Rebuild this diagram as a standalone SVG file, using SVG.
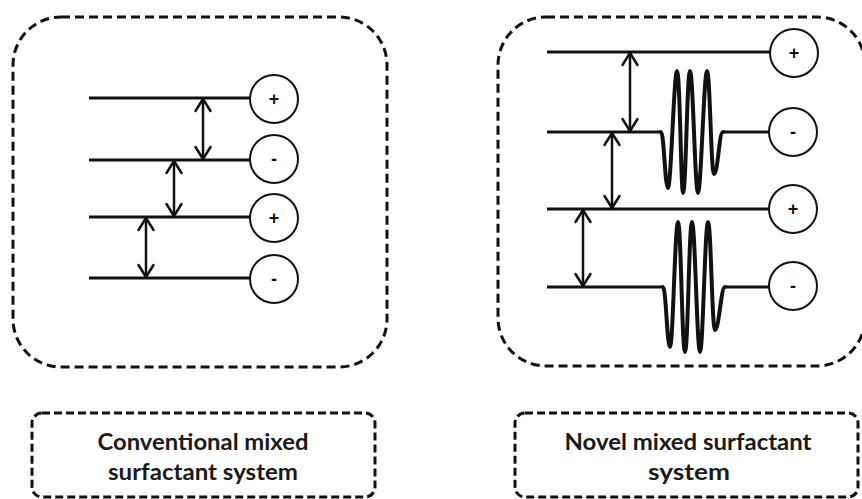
<svg xmlns="http://www.w3.org/2000/svg" width="862" height="499" viewBox="0 0 862 499">
  <style>
    .panel { fill: none; stroke: #111; stroke-width: 3; stroke-dasharray: 9 5; }
    .label-box { fill: none; stroke: #111; stroke-width: 3; stroke-dasharray: 8 4; }
    .tail { fill: none; stroke: #111; stroke-width: 3; }
    .coil { fill: none; stroke: #111; stroke-width: 4; stroke-linejoin: round; stroke-linecap: round; }
    .head { fill: #fff; stroke: #111; stroke-width: 2; }
    .charge { font-family: "Liberation Sans", Arial, sans-serif; font-size: 18px; font-weight: bold; fill: #111; text-anchor: middle; }
    .gap { stroke: #111; stroke-width: 2.5; marker-start: url(#chev); marker-end: url(#chev); }
    .caption { font-family: Lato, "Open Sans", sans-serif; font-size: 23px; font-weight: bold; fill: #1a1a1a; text-anchor: middle; }
  </style>
  <defs>
    <marker id="chev" viewBox="-14 -10 16 20" refX="0" refY="0" markerWidth="16" markerHeight="20" markerUnits="userSpaceOnUse" orient="auto-start-reverse">
      <path d="M-12,-7.5 L0,0 L-12,7.5" fill="none" stroke="#111" stroke-width="2.5" stroke-linecap="round" stroke-linejoin="round"/>
    </marker>
  </defs>
  <rect width="862" height="499" fill="#fff"/>

  <!-- conventional system: four straight-chain surfactants -->
  <g id="conventional-panel">
    <rect class="panel" x="13" y="17" width="374" height="350" rx="48" ry="48"/>
    <g id="conv-s1">
      <line class="tail" x1="89" y1="98" x2="251" y2="98"/>
      <circle class="head" cx="274" cy="99" r="24"/>
      <text class="charge" x="274" y="105">+</text>
    </g>
    <g id="conv-s2">
      <line class="tail" x1="89" y1="160" x2="251" y2="160"/>
      <circle class="head" cx="274" cy="159" r="24"/>
      <text class="charge" x="274" y="165">-</text>
    </g>
    <g id="conv-s3">
      <line class="tail" x1="89" y1="217" x2="251" y2="217"/>
      <circle class="head" cx="274" cy="218" r="24"/>
      <text class="charge" x="274" y="224">+</text>
    </g>
    <g id="conv-s4">
      <line class="tail" x1="89" y1="278" x2="251" y2="278"/>
      <circle class="head" cx="274" cy="279" r="24"/>
      <text class="charge" x="274" y="285">-</text>
    </g>
  </g>

  <!-- novel system: straight chains alternating with coiled chains -->
  <g id="novel-panel">
    <rect class="panel" x="498" y="17" width="367" height="349" rx="48" ry="48"/>
    <g id="novel-s1">
      <line class="tail" x1="547" y1="52" x2="771" y2="52"/>
      <circle class="head" cx="794" cy="53" r="24"/>
      <text class="charge" x="794" y="59">+</text>
    </g>
    <g id="novel-s2">
      <line class="tail" x1="547" y1="132" x2="661" y2="132"/>
      <path class="coil" d="M661,132 C664,132 665,188 668,188 C671,188 674,71 677,71 C680,71 681,193 683,193 C686,193 687,71 690,71 C693,71 695,193 698,193 C701,193 704,71 707,71 C710,71 711,174 714,174 C718,174 719,132 723,132"/>
      <line class="tail" x1="723" y1="132" x2="770" y2="132"/>
      <circle class="head" cx="793" cy="132" r="24"/>
      <text class="charge" x="793" y="138">-</text>
    </g>
    <g id="novel-s3">
      <line class="tail" x1="547" y1="209" x2="771" y2="209"/>
      <circle class="head" cx="793" cy="209" r="24"/>
      <text class="charge" x="793" y="215">+</text>
    </g>
    <g id="novel-s4">
      <line class="tail" x1="547" y1="287" x2="663" y2="287"/>
      <path class="coil" d="M663,287 C666,287 667,347 670,347 C673,347 675,222 678,222 C681,222 682,352 685,352 C688,352 689,222 692,222 C695,222 697,352 700,352 C703,352 705,222 708,222 C711,222 712,330 715,330 C719,330 721,287 725,287"/>
      <line class="tail" x1="725" y1="287" x2="770" y2="287"/>
      <circle class="head" cx="793" cy="286" r="24"/>
      <text class="charge" x="793" y="292">-</text>
    </g>
  </g>

  <!-- spacing arrows between neighbouring chains -->
  <g id="connectors">
    <line class="gap" x1="203" y1="99" x2="203" y2="159"/>
    <line class="gap" x1="174" y1="161" x2="174" y2="216"/>
    <line class="gap" x1="146" y1="218" x2="146" y2="277"/>
    <line class="gap" x1="630" y1="53" x2="630" y2="131"/>
    <line class="gap" x1="612" y1="133" x2="612" y2="208"/>
    <line class="gap" x1="583" y1="210" x2="583" y2="286"/>
  </g>

  <g id="caption-conventional">
    <rect class="label-box" x="32" y="413" width="343" height="84" rx="10" ry="10"/>
    <text class="caption" x="203" y="450" textLength="211" lengthAdjust="spacingAndGlyphs">Conventional mixed</text>
    <text class="caption" x="203" y="480" textLength="190" lengthAdjust="spacingAndGlyphs">surfactant system</text>
  </g>
  <g id="caption-novel">
    <rect class="label-box" x="515" y="413" width="343" height="84" rx="10" ry="10"/>
    <text class="caption" x="688" y="450" textLength="247" lengthAdjust="spacingAndGlyphs">Novel mixed surfactant</text>
    <text class="caption" x="689" y="480" textLength="82" lengthAdjust="spacingAndGlyphs">system</text>
  </g>
</svg>
